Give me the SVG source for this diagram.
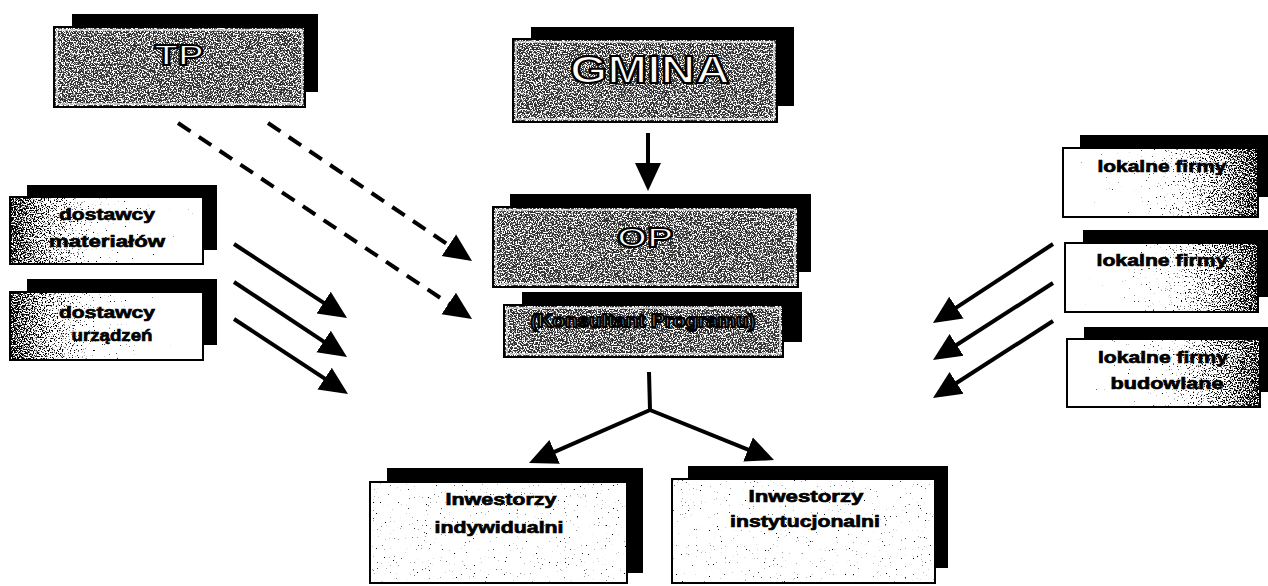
<svg xmlns="http://www.w3.org/2000/svg" width="1268" height="586" viewBox="0 0 1268 586">
<style>
.shadow{fill:#000}
.frontD{fill:#2e2e2e;stroke:#000;stroke-width:2}
.frontL{fill:#fff;stroke:#000;stroke-width:2}
.inner{fill:none;stroke:#fff;stroke-width:1.2}
.ot{font-family:"Liberation Sans",Arial,sans-serif;font-weight:bold;fill:#fff;stroke:#000;stroke-width:2;text-anchor:middle}
.bt{font-family:"Liberation Sans",Arial,sans-serif;font-weight:bold;fill:#000;stroke:#000;stroke-width:0.7;text-anchor:middle;font-size:17px}
.ln{fill:none;stroke:#000;stroke-width:4}
.dash{fill:none;stroke:#000;stroke-width:4;stroke-dasharray:15 10}
</style>
<defs>
<filter id="speck" x="0" y="0" width="1" height="1" color-interpolation-filters="sRGB">
<feTurbulence type="fractalNoise" baseFrequency="0.75" numOctaves="2" seed="7" result="t"/>
<feColorMatrix in="t" type="matrix" values="0 0 0 0 1  0 0 0 0 1  0 0 0 0 1  1 0 0 0 0" result="n"/>
<feComposite in="n" in2="SourceGraphic" operator="arithmetic" k1="0" k2="10" k3="10" k4="-12"/>
</filter>
<linearGradient id="gLeft" x1="0" y1="0" x2="1" y2="0">
<stop offset="0" stop-color="#000" stop-opacity="0.8"/>
<stop offset="0.45" stop-color="#000" stop-opacity="0.5"/>
<stop offset="1" stop-color="#000" stop-opacity="0.35"/>
</linearGradient>
<linearGradient id="gRight" x1="1" y1="0" x2="0" y2="0">
<stop offset="0" stop-color="#000" stop-opacity="0.8"/>
<stop offset="0.5" stop-color="#000" stop-opacity="0.5"/>
<stop offset="1" stop-color="#000" stop-opacity="0.35"/>
</linearGradient>
<marker id="ah" markerUnits="userSpaceOnUse" markerWidth="30" markerHeight="30" viewBox="0 -14 30 28" refX="2" refY="0" orient="auto">
<path d="M0,-13 L28,0 L0,13 z" fill="#000"/>
</marker>
</defs>

<g id="connectors">
<path class="ln" d="M648,133 L648,165" marker-end="url(#ah)"/>
<path class="dash" d="M268,123 L450.5,246.4" marker-end="url(#ah)"/>
<path class="dash" d="M178,123 L450.4,304.6" marker-end="url(#ah)"/>
<path class="ln" d="M234,244 L325.3,303.8" marker-end="url(#ah)"/>
<path class="ln" d="M234,282 L325.3,342.6" marker-end="url(#ah)"/>
<path class="ln" d="M234,319 L326.3,379.7" marker-end="url(#ah)"/>
<path class="ln" d="M1053,244 L954.7,308.7" marker-end="url(#ah)"/>
<path class="ln" d="M1053,283 L954.9,346" marker-end="url(#ah)"/>
<path class="ln" d="M1053,321 L954.9,384" marker-end="url(#ah)"/>
<path class="ln" d="M649,372 L650,410 L552.8,452.6" marker-end="url(#ah)"/>
<path class="ln" d="M650,410 L749.9,450.3" marker-end="url(#ah)"/>
</g>

<g id="node-tp">
<rect class="shadow" x="72" y="14" width="246" height="78"/>
<rect class="frontD" x="54" y="27" width="251" height="80"/>
<rect x="55" y="28" width="249" height="78" fill="#fff" fill-opacity="0.72" filter="url(#speck)"/>
<rect class="inner" x="57" y="30" width="245" height="74"/>
<text class="ot" x="179" y="65" font-size="30" textLength="49" lengthAdjust="spacingAndGlyphs">TP</text>
</g>

<g id="node-gmina">
<rect class="shadow" x="531" y="27" width="263" height="79"/>
<rect class="frontD" x="513" y="39" width="264" height="83"/>
<rect x="514" y="40" width="262" height="81" fill="#fff" fill-opacity="0.72" filter="url(#speck)"/>
<rect class="inner" x="516" y="42" width="258" height="77"/>
<text class="ot" x="650" y="83" font-size="38" stroke-width="2.4" textLength="160" lengthAdjust="spacingAndGlyphs">GMINA</text>
</g>

<g id="node-op">
<rect class="shadow" x="510" y="194" width="301" height="78"/>
<rect class="frontD" x="493" y="207" width="305" height="80"/>
<rect x="494" y="208" width="303" height="78" fill="#fff" fill-opacity="0.72" filter="url(#speck)"/>
<rect class="inner" x="496" y="210" width="299" height="74"/>
<text class="ot" x="645" y="247" font-size="28" textLength="56" lengthAdjust="spacingAndGlyphs">OP</text>
</g>

<g id="node-konsultant">
<rect class="shadow" x="522" y="292" width="280" height="50"/>
<rect class="frontD" x="504" y="305" width="279" height="52"/>
<rect x="505" y="306" width="277" height="50" fill="#fff" fill-opacity="0.72" filter="url(#speck)"/>
<rect class="inner" x="507" y="308" width="273" height="46"/>
<text class="ot" x="643" y="327" font-size="18" stroke-width="1.2" textLength="225" lengthAdjust="spacingAndGlyphs">(Konsultant Programu)</text>
</g>

<g id="node-dostawcy-materialow">
<rect class="shadow" x="27" y="185" width="190" height="65"/>
<rect class="frontL" x="10" y="197" width="193" height="67"/>
<rect x="11" y="198" width="191" height="65" fill="url(#gLeft)" filter="url(#speck)"/>
<text class="bt" x="107" y="220" textLength="96" lengthAdjust="spacingAndGlyphs">dostawcy</text>
<text class="bt" x="107" y="247" textLength="116" lengthAdjust="spacingAndGlyphs">materiałów</text>
</g>

<g id="node-dostawcy-urzadzen">
<rect class="shadow" x="27" y="279" width="190" height="66"/>
<rect class="frontL" x="10" y="292" width="193" height="68"/>
<rect x="11" y="293" width="191" height="66" fill="url(#gLeft)" filter="url(#speck)"/>
<text class="bt" x="107" y="318" textLength="96" lengthAdjust="spacingAndGlyphs">dostawcy</text>
<text class="bt" x="112" y="341" textLength="81" lengthAdjust="spacingAndGlyphs">urządzeń</text>
</g>

<g id="node-lokalne-1">
<rect class="shadow" x="1080" y="135" width="190" height="62"/>
<rect class="frontL" x="1063" y="148" width="195" height="69"/>
<rect x="1064" y="149" width="193" height="67" fill="url(#gRight)" filter="url(#speck)"/>
<text class="bt" x="1162" y="172" textLength="129" lengthAdjust="spacingAndGlyphs">lokalne firmy</text>
</g>

<g id="node-lokalne-2">
<rect class="shadow" x="1083" y="230" width="187" height="67"/>
<rect class="frontL" x="1065" y="243" width="193" height="69"/>
<rect x="1066" y="244" width="191" height="67" fill="url(#gRight)" filter="url(#speck)"/>
<text class="bt" x="1162" y="266" textLength="131" lengthAdjust="spacingAndGlyphs">lokalne firmy</text>
</g>

<g id="node-lokalne-budowlane">
<rect class="shadow" x="1084" y="327" width="186" height="65"/>
<rect class="frontL" x="1067" y="339" width="193" height="68"/>
<rect x="1068" y="340" width="191" height="66" fill="url(#gRight)" filter="url(#speck)"/>
<text class="bt" x="1163" y="363" textLength="130" lengthAdjust="spacingAndGlyphs">lokalne firmy</text>
<text class="bt" x="1167" y="389" textLength="113" lengthAdjust="spacingAndGlyphs">budowlane</text>
</g>

<g id="node-inwestorzy-indywidualni">
<rect class="shadow" x="387" y="468" width="256" height="105"/>
<rect class="frontL" x="370" y="482" width="257" height="101"/>
<rect x="371" y="483" width="255" height="99" fill="#000" fill-opacity="0.48" filter="url(#speck)"/>
<text class="bt" x="501" y="505" textLength="111" lengthAdjust="spacingAndGlyphs">Inwestorzy</text>
<text class="bt" x="499" y="533" textLength="129" lengthAdjust="spacingAndGlyphs">indywidualni</text>
</g>

<g id="node-inwestorzy-instytucjonalni">
<rect class="shadow" x="688" y="466" width="260" height="102"/>
<rect class="frontL" x="672" y="479" width="263" height="104"/>
<rect x="673" y="480" width="261" height="102" fill="#000" fill-opacity="0.48" filter="url(#speck)"/>
<text class="bt" x="806" y="502" textLength="115" lengthAdjust="spacingAndGlyphs">Inwestorzy</text>
<text class="bt" x="805" y="527" textLength="150" lengthAdjust="spacingAndGlyphs">instytucjonalni</text>
</g>
</svg>
